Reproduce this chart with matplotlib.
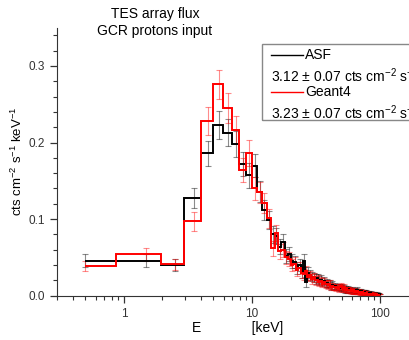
import numpy as np
import matplotlib
matplotlib.use("Agg")
import matplotlib.pyplot as plt
from matplotlib.lines import Line2D
from matplotlib.patches import Rectangle

plt.rcParams['font.family'] = ['Liberation Sans', 'DejaVu Sans']
plt.rcParams['mathtext.fontset'] = 'custom'
plt.rcParams['mathtext.rm'] = 'Liberation Sans'
plt.rcParams['mathtext.it'] = 'Liberation Sans:italic'

# bin centres, 1 keV wide, 0.5 ... 99.5 keV
energy = np.arange(0.5, 100.0, 1.0)

asf_flux = [
    0.046, 0.046, 0.040, 0.128, 0.186, 0.223, 0.213, 0.198, 0.172, 0.157,
    0.170, 0.136, 0.112, 0.099, 0.080, 0.078, 0.064, 0.070, 0.052, 0.055,
    0.045, 0.044, 0.036, 0.040, 0.030, 0.046, 0.018, 0.030, 0.027, 0.025,
    0.024, 0.022, 0.023, 0.020, 0.021, 0.018, 0.019, 0.016, 0.017, 0.015,
    0.016, 0.013, 0.014, 0.012, 0.013, 0.011, 0.012, 0.010, 0.011, 0.010,
    0.012, 0.009, 0.010, 0.008, 0.009, 0.008, 0.009, 0.007, 0.008, 0.007,
    0.008, 0.006, 0.007, 0.006, 0.007, 0.006, 0.008, 0.006, 0.005, 0.006,
    0.005, 0.006, 0.004, 0.005, 0.004, 0.005, 0.004, 0.005, 0.003, 0.004,
    0.004, 0.003, 0.004, 0.003, 0.004, 0.003, 0.003, 0.002, 0.003, 0.003,
    0.002, 0.003, 0.002, 0.002, 0.003, 0.002, 0.002, 0.001, 0.002, 0.001,
]
asf_err = [
    0.008, 0.008, 0.008, 0.013, 0.016, 0.018, 0.018, 0.017, 0.016, 0.016,
    0.015, 0.014, 0.013, 0.012, 0.011, 0.011, 0.010, 0.010, 0.009, 0.009,
    0.009, 0.008, 0.008, 0.008, 0.007, 0.008, 0.006, 0.007, 0.007, 0.006,
    0.006, 0.006, 0.006, 0.006, 0.006, 0.005, 0.005, 0.005, 0.005, 0.005,
    0.005, 0.005, 0.005, 0.004, 0.004, 0.004, 0.004, 0.004, 0.004, 0.004,
    0.004, 0.004, 0.004, 0.004, 0.004, 0.004, 0.004, 0.003, 0.003, 0.003,
    0.003, 0.003, 0.003, 0.003, 0.003, 0.003, 0.003, 0.003, 0.003, 0.003,
    0.003, 0.003, 0.003, 0.003, 0.003, 0.003, 0.003, 0.003, 0.002, 0.002,
    0.002, 0.002, 0.002, 0.002, 0.002, 0.002, 0.002, 0.002, 0.002, 0.002,
    0.002, 0.002, 0.002, 0.002, 0.002, 0.002, 0.002, 0.002, 0.002, 0.002,
]

geant4_flux = [
    0.039, 0.054, 0.041, 0.097, 0.228, 0.276, 0.245, 0.216, 0.164, 0.186,
    0.140, 0.135, 0.121, 0.101, 0.062, 0.082, 0.058, 0.060, 0.050, 0.048,
    0.040, 0.042, 0.034, 0.036, 0.030, 0.028, 0.032, 0.025, 0.027, 0.022,
    0.024, 0.020, 0.021, 0.018, 0.019, 0.016, 0.018, 0.015, 0.016, 0.014,
    0.015, 0.012, 0.013, 0.011, 0.012, 0.010, 0.012, 0.009, 0.011, 0.013,
    0.010, 0.009, 0.011, 0.008, 0.009, 0.007, 0.008, 0.007, 0.008, 0.006,
    0.007, 0.006, 0.007, 0.005, 0.006, 0.005, 0.006, 0.005, 0.006, 0.004,
    0.005, 0.004, 0.005, 0.004, 0.004, 0.003, 0.004, 0.003, 0.004, 0.003,
    0.003, 0.002, 0.003, 0.003, 0.002, 0.003, 0.002, 0.002, 0.003, 0.002,
    0.002, 0.002, 0.001, 0.002, 0.002, 0.001, 0.002, 0.001, 0.001, 0.001,
]
geant4_err = [
    0.007, 0.008, 0.007, 0.012, 0.018, 0.019, 0.019, 0.018, 0.016, 0.017,
    0.015, 0.014, 0.013, 0.012, 0.010, 0.011, 0.010, 0.010, 0.009, 0.009,
    0.008, 0.008, 0.008, 0.008, 0.007, 0.007, 0.007, 0.006, 0.006, 0.006,
    0.006, 0.006, 0.006, 0.005, 0.005, 0.005, 0.005, 0.005, 0.005, 0.005,
    0.005, 0.004, 0.004, 0.004, 0.004, 0.004, 0.004, 0.004, 0.004, 0.004,
    0.004, 0.004, 0.004, 0.003, 0.003, 0.003, 0.003, 0.003, 0.003, 0.003,
    0.003, 0.003, 0.003, 0.003, 0.003, 0.003, 0.003, 0.003, 0.003, 0.003,
    0.003, 0.003, 0.003, 0.003, 0.002, 0.002, 0.002, 0.002, 0.002, 0.002,
    0.002, 0.002, 0.002, 0.002, 0.002, 0.002, 0.002, 0.002, 0.002, 0.002,
    0.002, 0.002, 0.002, 0.002, 0.002, 0.002, 0.002, 0.002, 0.002, 0.002,
]

series = [
    ("ASF", asf_flux, asf_err, "black", (0, 0, 0, 0.45)),
    ("Geant4", geant4_flux, geant4_err, "#ff0000", (1, 0, 0, 0.45)),
]
rates = ["3.12 \u00b1 0.07 cts cm$^{-2}$ s$^{-1}$",
         "3.23 \u00b1 0.07 cts cm$^{-2}$ s$^{-1}$"]


def step_edges(x):
    # steps switch at the log-midpoint between neighbouring points
    mids = np.sqrt(x[:-1] * x[1:])
    return np.concatenate([[x[0]], mids, [x[-1]]])


fig = plt.figure(figsize=(4.1, 3.4), dpi=100)
ax = fig.add_axes([0.139, 0.130, 0.882, 0.789])

edges = step_edges(energy)
for name, flux, err, color, ecolor in series:
    ax.errorbar(energy, flux, yerr=err, fmt='none', ecolor=ecolor,
                elinewidth=0.8, capsize=2.2, capthick=0.8, zorder=2)
    ax.stairs(flux, edges, baseline=None, color=color, lw=1.4, zorder=3)

ax.set_xscale('log')
ax.set_xlim(0.3, 200)
ax.set_ylim(0, 0.35)
ax.set_yticks([0.0, 0.1, 0.2, 0.3])
ax.set_yticks(np.arange(0, 0.35, 0.02), minor=True)
ax.set_xticks([1, 10, 100])
ax.set_xticklabels(["1", "10", "100"])
ax.yaxis.set_major_formatter(matplotlib.ticker.FormatStrFormatter('%.1f'))

for side in ['top', 'right']:
    ax.spines[side].set_visible(False)
for side in ['left', 'bottom']:
    ax.spines[side].set_color('#333333')
ax.tick_params(which='major', direction='out', length=5, width=0.9,
               labelsize=8.5, colors='#333333')
ax.tick_params(which='minor', direction='out', length=3, width=0.8,
               colors='#333333')

ax.set_xlabel("E             [keV]", fontsize=10)
ax.xaxis.label.set_va('center')
ax.xaxis.set_label_coords(0.5, -0.12)
ax.set_ylabel("cts cm$^{-2}$ s$^{-1}$ keV$^{-1}$", fontsize=9.5)
ax.yaxis.label.set_va('center')
ax.yaxis.set_label_coords(-0.11, 0.5)

fig.text(0.378, 0.978, "TES array flux\nGCR protons input",
         ha='center', va='top', fontsize=10, linespacing=1.2)

# legend box, running off the right edge like the original
fig.patches.append(Rectangle((262 / 410, 1 - 120 / 340), 0.5, 76 / 340,
                             transform=fig.transFigure, fill=False,
                             edgecolor='#888888', lw=1.0))
rows = [(55, 76), (92, 113)]
for (name, flux, err, color, ecolor), rate, (ly, ry) in zip(series, rates, rows):
    fig.lines.append(Line2D([271 / 410, 303 / 410], [1 - ly / 340] * 2,
                            transform=fig.transFigure, color=color, lw=1.0))
    fig.text(305 / 410, 1 - ly / 340, name, ha='left', va='center', fontsize=10)
    fig.text(271 / 410, 1 - ry / 340, rate, ha='left', va='center', fontsize=10)

fig.savefig("out.png", dpi=100)
